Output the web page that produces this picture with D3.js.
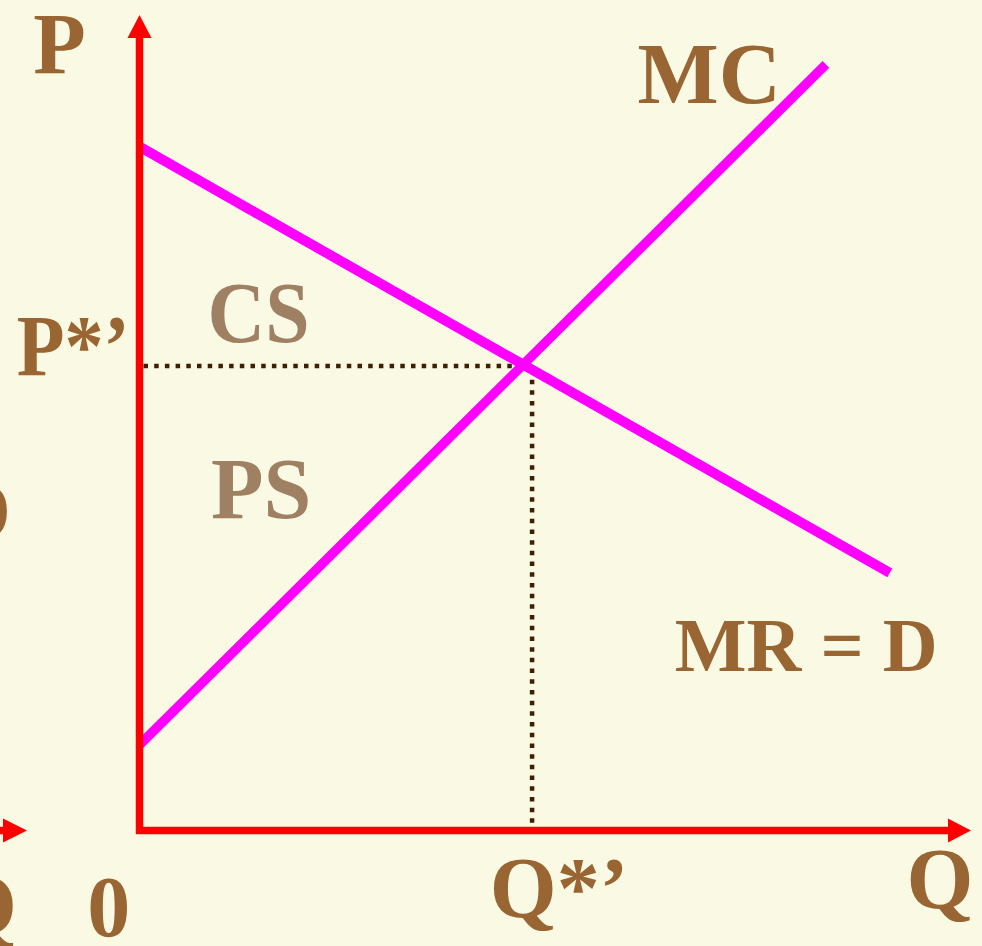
<!DOCTYPE html>
<html>
<head>
<meta charset="utf-8">
<script src="https://cdn.jsdelivr.net/npm/d3@7"></script>
<style>
  html, body { margin: 0; padding: 0; background: #fafae4; }
  svg { display: block; }
  .lbl { font-family: "Liberation Serif", "Times New Roman", serif; font-weight: bold; }
</style>
</head>
<body>
<div id="chart"></div>
<script>
// economic values, in chart units (Q across, P up)
const demand = [{q: 0, p: 8.39}, {q: 9.04, p: 3.16}];
const mc = [{q: 0, p: 1.05}, {q: 8.27, p: 9.40}];
const equilibrium = {q: 4.73, p: 5.70};

// text labels, placed in chart units
const labels = [
    {text: "P", q: -1.28, p: 9.3},
    {text: "MC", q: 6.0, p: 8.93},
    {text: "P*\u2019", q: -1.48, p: 5.59},
    {text: "CS", q: 0.82, p: 5.99},
    {text: "PS", q: 0.86, p: 3.84},
    {text: "MR = D", q: 6.45, p: 1.96},
    {text: "0", q: -0.63, p: -1.3},
    {text: "Q*\u2019", q: 4.22, p: -1.06},
    {text: "Q", q: 9.24, p: -0.95}
];

const width = 982, height = 946;
const labelColor = "#996633";
const surplusColor = "#a08062";
// a few labels are set narrower / smaller in the original
const squeeze = {"P*\u2019": 113, "CS": 102};
const smaller = {"MR = D": 76};

const svg = d3.select("#chart")
    .append("svg")
    .attr("width", width)
    .attr("height", height);

svg.append("rect")
    .attr("width", width)
    .attr("height", height)
    .attr("fill", "#fafae4");

const x = d3.scaleLinear().domain([0, 10]).range([139.5, 969.5]);
const y = d3.scaleLinear().domain([0, 10]).range([830.5, 15.5]);

const line = d3.line().x(d => x(d.q)).y(d => y(d.p));

// dotted guides
const dotted = svg.append("g")
    .attr("stroke", "#3f1f00")
    .attr("stroke-width", 4.5)
    .attr("stroke-dasharray", "4.5 6.2");

dotted.append("line")
    .attr("x1", x(0) + 4).attr("y1", y(equilibrium.p))
    .attr("x2", x(equilibrium.q) - 12).attr("y2", y(equilibrium.p));

dotted.append("line")
    .attr("x1", x(equilibrium.q)).attr("y1", y(equilibrium.p) + 3)
    .attr("x2", x(equilibrium.q)).attr("y2", y(0));

// curves
svg.append("path")
    .datum(demand)
    .attr("d", line)
    .attr("fill", "none")
    .attr("stroke", "#ff00ff")
    .attr("stroke-width", 10);

svg.append("path")
    .datum(mc)
    .attr("d", line)
    .attr("fill", "none")
    .attr("stroke", "#ff00ff")
    .attr("stroke-width", 9.5);

// axes
const axes = svg.append("g").attr("fill", "#ff0000").attr("stroke", "#ff0000");

axes.append("line")
    .attr("x1", x(0)).attr("y1", y(0) + 3.5)
    .attr("x2", x(0)).attr("y2", y(10) + 20)
    .attr("stroke-width", 7.5);

axes.append("line")
    .attr("x1", x(0) - 3.5).attr("y1", y(0))
    .attr("x2", x(10) - 20).attr("y2", y(0))
    .attr("stroke-width", 7.5);

axes.append("path")
    .attr("stroke", "none")
    .attr("d", `M${x(0)},${y(10) - 0.5} l-12,23 h24 z`);

axes.append("path")
    .attr("stroke", "none")
    .attr("d", `M${x(10) + 1.5},${y(0)} l-23,-12 v24 z`);

// neighbouring graph, cut by the left edge
axes.append("line")
    .attr("x1", -5).attr("y1", y(0))
    .attr("x2", 5).attr("y2", y(0))
    .attr("stroke-width", 7.5);

axes.append("path")
    .attr("stroke", "none")
    .attr("d", `M27,${y(0)} l-24,-12 v24 z`);

svg.append("text")
    .attr("class", "lbl")
    .attr("x", 11).attr("y", 540)
    .attr("text-anchor", "end")
    .attr("font-size", 86)
    .attr("fill", labelColor)
    .text("D");

svg.append("text")
    .attr("class", "lbl")
    .attr("x", 17).attr("y", 934)
    .attr("text-anchor", "end")
    .attr("font-size", 86)
    .attr("fill", labelColor)
    .text("Q");

// labels
svg.append("g")
    .selectAll("text")
    .data(labels)
    .enter()
    .append("text")
    .attr("class", "lbl")
    .attr("x", d => x(d.q))
    .attr("y", d => y(d.p))
    .attr("font-size", d => smaller[d.text] || 86)
    .attr("fill", d => (d.text === "CS" || d.text === "PS") ? surplusColor : labelColor)
    .attr("textLength", d => squeeze[d.text] || null)
    .attr("lengthAdjust", d => squeeze[d.text] ? "spacingAndGlyphs" : null)
    .text(d => d.text);
</script>
</body>
</html>
